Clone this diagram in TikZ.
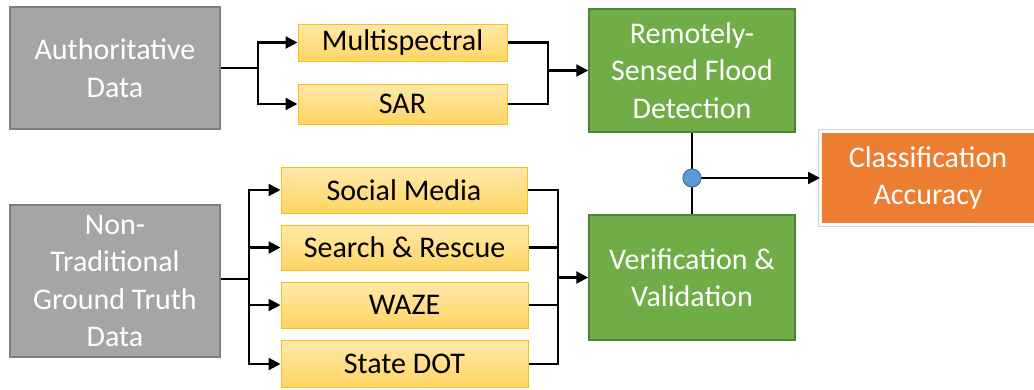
\documentclass[tikz,border=0pt]{standalone}
\usepackage{fontspec}
\setmainfont{Carlito}
\usetikzlibrary{arrows.meta,calc}
\definecolor{grayfill}{HTML}{A5A5A5}
\definecolor{graydraw}{HTML}{7F7F7F}
\definecolor{yeltop}{HTML}{FFE9AA}
\definecolor{yelbot}{HTML}{FFD462}
\definecolor{yeldraw}{HTML}{F6BE1E}
\definecolor{greenfill}{HTML}{70AD47}
\definecolor{greendraw}{HTML}{548235}
\definecolor{orangefill}{HTML}{ED7D31}
\definecolor{bluefill}{HTML}{5B9BD5}
\definecolor{bluedraw}{HTML}{41719C}
\begin{document}
\begin{tikzpicture}[x=1pt,y=-1pt,
  txt/.style={font=\fontsize{30}{37.5}\selectfont, align=center, inner sep=0pt},
  graybox/.style={txt, fill=grayfill, draw=graydraw, line width=1.5pt, text=white},
  yelbox/.style={txt, top color=yeltop, bottom color=yelbot, draw=yeldraw, line width=1pt, text=black},
  greenbox/.style={txt, fill=greenfill, draw=greendraw, line width=1.5pt, text=white},
  orangebox/.style={txt, fill=orangefill, draw=white, line width=2pt, text=white},
  conn/.style={line width=2.2pt, draw=black},
  arr/.style={conn, -{Triangle[length=12pt,width=12pt]}},
  dotnode/.style={circle, fill=bluefill, draw=bluedraw, line width=0.8pt, minimum size=18pt, inner sep=0pt}
]
\useasboundingbox (0,0) rectangle (1034,389);
% nodes
\node[graybox, minimum width=210pt, minimum height=122pt] (auth) at (115,68) {Authoritative\\Data};
\node[yelbox, minimum width=209pt, minimum height=37pt] (multi) at (402.5,42.5) {Multispectral};
\node[yelbox, minimum width=209pt, minimum height=40pt] (sar) at (402.5,104) {SAR};
\node[greenbox, minimum width=206pt, minimum height=123pt] (rsfd) at (692,70.5) {Remotely-\\Sensed Flood\\Detection};
\node[greenbox, minimum width=206pt, minimum height=125pt] (vv) at (692,277.5) {Verification \&\\Validation};
\node[graybox, minimum width=210pt, minimum height=152pt] (nontrad) at (115,281) {Non-\\Traditional\\Ground Truth\\Data};
\node[yelbox, minimum width=246pt, minimum height=46pt] (social) at (404,190) {Social Media};
\node[yelbox, minimum width=247pt, minimum height=45pt] (search) at (404.5,247.5) {Search \& Rescue};
\node[yelbox, minimum width=247pt, minimum height=46pt] (waze) at (404.5,305) {WAZE};
\node[yelbox, minimum width=247pt, minimum height=47pt] (statedot) at (404.5,364) {State DOT};
\draw[gray!35, line width=0.8pt] (818,129.5) rectangle (1036,226.5);
\node[orangebox, minimum width=214pt, minimum height=92pt] (acc) at (928,178) {Classification\\Accuracy};
\node[dotnode] (dot) at (692,178) {};
% coordinates
\coordinate (a1) at (258,68);
\coordinate (m1) at (548,70.5);
\coordinate (n1) at (249,279);
\coordinate (n2) at (558,277.5);
% connectors upper
\draw[conn] (auth.east) -- (a1);
\draw[arr] (a1) |- (multi.west);
\draw[arr] (a1) |- (sar.west);
\draw[conn] (multi.east) -| (m1) |- (sar.east);
\draw[arr] (m1) -- (rsfd.west);
% connectors lower
\draw[conn] (nontrad.east |- n1) -- (n1);
\draw[arr] (n1) |- (social.west);
\draw[arr] (n1) |- (search.west);
\draw[arr] (n1) |- (waze.west);
\draw[arr] (n1) |- (statedot.west);
\draw[conn] (social.east) -| (n2) |- (statedot.east);
\draw[conn] (search.east) -| (n2);
\draw[conn] (waze.east) -| (n2);
\draw[arr] (n2) -- (vv.west);
% right side
\draw[conn] (rsfd.south) -- (dot.north);
\draw[conn] (dot.south) -- (vv.north);
\draw[arr] (dot.east) -- (acc.west);
\node[dotnode] at (dot) {};
\end{tikzpicture}
\end{document}
